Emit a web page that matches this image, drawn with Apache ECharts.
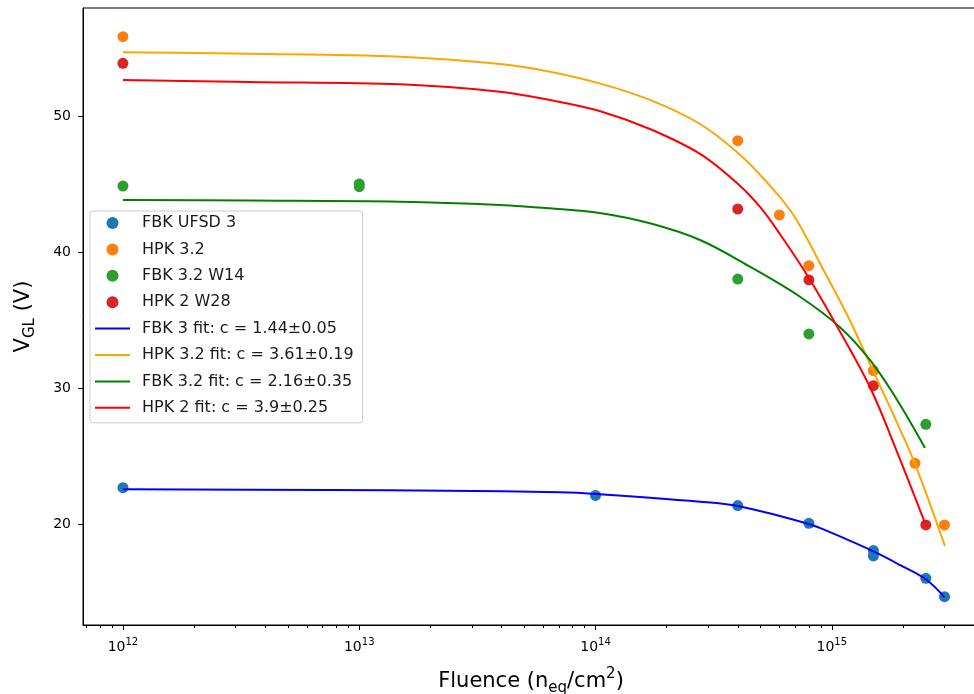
<!DOCTYPE html>
<html><head><meta charset="utf-8">
<script src="https://cdn.jsdelivr.net/npm/echarts@6/dist/echarts.min.js"></script>
<style>html,body{margin:0;padding:0;background:#fff;overflow:hidden}#c{width:974px;height:694px}</style>
</head><body><div id="c"></div>
<script>
// ---- data (fluence in n_eq/cm^2, V_GL in V) ----
const xTickExponents = [12, 13, 14, 15];
const yTicks = [20, 30, 40, 50];

const scatterNames = ['FBK UFSD 3', 'HPK 3.2', 'FBK 3.2 W14', 'HPK 2 W28'];
const fitNames = ['FBK 3 fit: c = 1.44±0.05', 'HPK 3.2 fit: c = 3.61±0.19', 'FBK 3.2 fit: c = 2.16±0.35', 'HPK 2 fit: c = 3.9±0.25'];

const fbkUfsd3 = [[1e12,22.67],[1e14,22.1],[4e14,21.35],[8e14,20.05],[1.5e15,18.04],[1.5e15,17.65],[2.5e15,16.0],[3e15,14.65]];
const hpk32 = [[1e12,55.83],[4e14,48.18],[6e14,42.72],[8e14,38.99],[1.5e15,31.27],[2.25e15,24.46],[3e15,19.93]];
const fbk32W14 = [[1e12,44.85],[1e13,44.8],[1e13,45.0],[4e14,38.01],[8e14,33.97],[2.5e15,27.33]];
const hpk2W28 = [[1e12,53.87],[4e14,43.16],[8e14,37.94],[1.5e15,30.17],[2.5e15,19.93]];

const fbk3Fit = [[1e12,22.55],[7.52e12,22.50],[2.31e13,22.45],[7.06e13,22.33],[1e14,22.21],[2.77e14,21.64],[4e14,21.32],[8e14,20.0],[1e15,19.34],[1.51e15,17.96],[1.94e15,16.99],[2.5e15,15.93],[3e15,14.61]];
const hpk32Fit = [[1e12,54.68],[3.44e12,54.58],[1.49e13,54.36],[3.94e13,53.82],[6.41e13,53.26],[1.04e14,52.40],[1.70e14,51.18],[2.77e14,49.41],[4.01e14,47.28],[5.21e14,45.29],[6.84e14,42.79],[9.08e14,38.90],[1.19e15,35.0],[1.49e15,31.32],[1.85e15,27.79],[2.25e15,24.41],[3.01e15,18.38]];
const fbk32Fit = [[1e12,43.82],[3.44e12,43.78],[1.49e13,43.70],[3.94e13,43.46],[6.41e13,43.21],[1.04e14,42.87],[1.70e14,42.11],[2.77e14,40.88],[4.5e14,38.92],[7.33e14,36.71],[1.08e15,34.49],[1.45e15,32.06],[1.89e15,29.12],[2.48e15,25.59]];
const hpk2Fit = [[1e12,52.65],[3.44e12,52.5],[1.49e13,52.33],[3.94e13,51.79],[6.41e13,51.18],[1.04e14,50.37],[1.70e14,49.04],[2.77e14,47.21],[4.01e14,45.0],[4.97e14,43.31],[6.03e14,41.32],[8e14,38.09],[1.05e15,34.56],[1.45e15,30.07],[1.89e15,25.29],[2.48e15,20.07]];

const scatterColors = ['#1f77b4', '#ff7f0e', '#2ca02c', '#d62728'];
const fitColors = ['#0000ff', '#ffa500', '#008000', '#ff0000'];

// ---- chart ----
const FONT = 'DejaVu Sans';
const XMIN = 11.831, XMAX = 15.623, YMIN = 12.57, YMAX = 57.94;
const toLog = arr => arr.map(p => [Math.log10(p[0]), p[1]]);
const minorTicks = [];
for (let n = 11; n <= 15; n++) for (let k = 2; k <= 9; k++) {
  const v = Math.log10(k * Math.pow(10, n));
  if (v > XMIN && v < XMAX) minorTicks.push(v);
}

const scatterData = [fbkUfsd3, hpk32, fbk32W14, hpk2W28];
const fitData = [fbk3Fit, hpk32Fit, fbk32Fit, hpk2Fit];
const series = [];
scatterData.forEach((d, i) => series.push({
  name: scatterNames[i], type: 'scatter', data: toLog(d), symbolSize: 11,
  itemStyle: { color: scatterColors[i], opacity: 1 }, z: 2
}));
fitData.forEach((d, i) => series.push({
  name: fitNames[i], type: 'line', data: toLog(d), symbol: 'none', showSymbol: false,
  smooth: 0.35,
  lineStyle: { color: fitColors[i], width: 2 }, itemStyle: { color: fitColors[i] }, z: 3
}));

const LINE_ICON = 'path://M0 0H35V2H0Z';
const chart = echarts.init(document.getElementById('c'), null, { renderer: 'canvas' });
chart.setOption({
  animation: false,
  backgroundColor: '#fff',
  grid: { left: 83, top: 8, width: 896, height: 617, outerBoundsMode: 'none', show: true, borderColor: '#000', borderWidth: 1, containLabel: false },
  legend: {
    orient: 'vertical', left: 90, top: 211,
    data: scatterNames.map(n => ({ name: n, icon: 'circle' })).concat(fitNames.map(n => ({ name: n, icon: LINE_ICON }))),
    itemWidth: 35, itemHeight: 12, itemGap: 8.4,
    padding: [3, 9, 6, 5],
    borderColor: '#cccccc', borderWidth: 1, borderRadius: 3,
    backgroundColor: 'rgba(255,255,255,0.8)',
    textStyle: { fontFamily: FONT, fontSize: 16, lineHeight: 18, color: '#1a1a1a', padding: [0, 0, 0, 7] }
  },
  xAxis: [{
    type: 'value', min: XMIN, max: XMAX, position: 'bottom',
    axisLine: { show: true, onZero: false, lineStyle: { color: '#000', width: 1 } },
    axisTick: { show: true, length: 5, customValues: xTickExponents, lineStyle: { color: '#000', width: 1 } },
    axisLabel: {
      customValues: xTickExponents, margin: 12, color: '#000',
      formatter: v => '{b|10}{s|' + Math.round(v) + '}',
      rich: {
        b: { fontFamily: FONT, fontSize: 14, color: '#000', verticalAlign: 'bottom' },
        s: { fontFamily: FONT, fontSize: 10, color: '#000', verticalAlign: 'bottom', padding: [0, 0, 7, 0] }
      }
    },
    splitLine: { show: false },
    name: '{m|Fluence (n}{sub|eq}{m|/cm}{sup|2}{m|)}',
    nameLocation: 'middle', nameGap: 42,
    nameTextStyle: {
      rich: {
        m: { fontFamily: FONT, fontSize: 21, color: '#000', verticalAlign: 'bottom', padding: [0, 0, 4, 0] },
        sub: { fontFamily: FONT, fontSize: 15, color: '#000', verticalAlign: 'bottom' },
        sup: { fontFamily: FONT, fontSize: 15, color: '#000', verticalAlign: 'bottom', padding: [0, 0, 14, 0] }
      }
    }
  }, {
    type: 'value', min: XMIN, max: XMAX, position: 'bottom',
    axisLine: { show: false },
    axisTick: { show: true, length: 3, customValues: minorTicks, lineStyle: { color: '#000', width: 1 } },
    axisLabel: { show: false, customValues: minorTicks },
    splitLine: { show: false }
  }],
  yAxis: {
    type: 'value', min: YMIN, max: YMAX,
    axisLine: { show: true, onZero: false, lineStyle: { color: '#000', width: 1 } },
    axisTick: { show: true, length: 5, customValues: yTicks, lineStyle: { color: '#000', width: 1 } },
    axisLabel: { customValues: yTicks, margin: 12, fontFamily: FONT, fontSize: 14, color: '#000' },
    splitLine: { show: false },
    name: '{m|V}{sub|GL}{m| (V)}',
    nameLocation: 'middle', nameGap: 45, nameRotate: 90,
    nameTextStyle: {
      rich: {
        m: { fontFamily: FONT, fontSize: 21, color: '#000', verticalAlign: 'bottom', padding: [0, 0, 4, 0] },
        sub: { fontFamily: FONT, fontSize: 15, color: '#000', verticalAlign: 'bottom' }
      }
    }
  },
  series: series
});
</script>
</body></html>
